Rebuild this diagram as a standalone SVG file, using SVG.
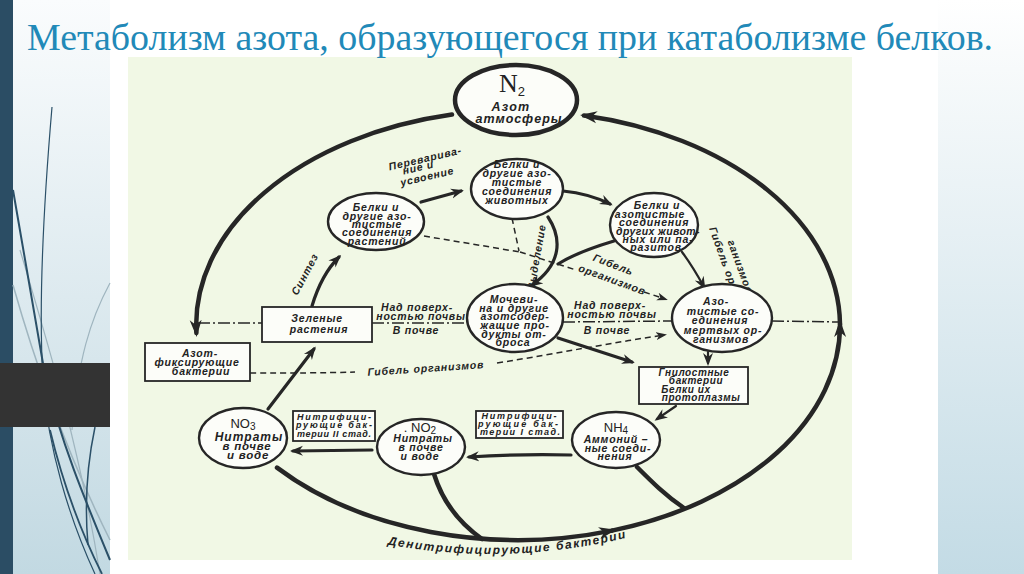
<svg xmlns="http://www.w3.org/2000/svg" width="1024" height="574" viewBox="0 0 1024 574">
<defs>
<linearGradient id="gl" x1="0" y1="0" x2="0" y2="1"><stop offset="0" stop-color="#fafcfd"/><stop offset="1" stop-color="#c2d9e2"/></linearGradient>
<linearGradient id="gr" x1="0" y1="0" x2="0" y2="1"><stop offset="0" stop-color="#ffffff"/><stop offset="0.12" stop-color="#f7fafb"/><stop offset="1" stop-color="#c3dbe5"/></linearGradient>
<marker id="a" markerUnits="userSpaceOnUse" markerWidth="16" markerHeight="12" refX="10" refY="6" orient="auto"><path d="M0,1 L13,6 L0,11 L4,6z" fill="#262626"/></marker>
<marker id="A" markerUnits="userSpaceOnUse" markerWidth="20" markerHeight="14" refX="13" refY="7" orient="auto"><path d="M0,1 L17,7 L0,13 L5,7z" fill="#262626"/></marker>
<marker id="d" markerUnits="userSpaceOnUse" markerWidth="12" markerHeight="9" refX="8" refY="4.5" orient="auto"><path d="M0,0.5 L11,4.5 L0,8.5 L3,4.5z" fill="#262626"/></marker>
<style>
.title{font-family:"Liberation Serif","DejaVu Serif",serif;font-size:38px;fill:#2189b8}
.n{fill:#fcfdf9;stroke:#262626;stroke-width:2.4}
.b{fill:#fcfdf9;stroke:#262626;stroke-width:1.8}
.t{font-family:"Liberation Sans","DejaVu Sans",sans-serif;font-style:italic;font-weight:bold;font-size:10.5px;letter-spacing:0.8px;fill:#222222;text-anchor:middle}
.sm{font-size:9px;letter-spacing:0}
.lg{font-size:12px;letter-spacing:1px}
.p{font-size:10px;letter-spacing:0.6px}
.f{font-family:"Liberation Sans","DejaVu Sans",sans-serif;font-size:13px;fill:#222222;text-anchor:middle}
.c{fill:none;stroke:#262626;stroke-linecap:round}
.k{stroke-width:4.5}
.m{stroke-width:3.2}
.s{stroke-width:2.2}
.dsh{fill:none;stroke:#262626;stroke-dasharray:6 4;stroke-width:1.5}
.dd{fill:none;stroke:#262626;stroke-dasharray:12 3 2 3;stroke-width:1.5}
.deco{fill:none;stroke:#2b5068}
.decol{fill:none;stroke:#9fb5bf}
</style>
</defs>

<!-- slide background -->
<rect x="0" y="0" width="1024" height="574" fill="#ffffff"/>
<rect x="13" y="0" width="97" height="574" fill="url(#gl)"/>
<rect x="938" y="0" width="86" height="574" fill="url(#gr)"/>
<rect x="0" y="0" width="13" height="574" fill="#2b4d64"/>
<g id="decor">
<path class="decol" stroke-width="1.5" d="M13,285 C40,380 70,460 110,540"/>
<path class="decol" stroke-width="1.2" d="M110,283 C90,320 78,360 72,430"/>
<path class="decol" stroke-width="1.2" d="M20,250 C50,350 80,450 100,574"/>
<path class="deco" stroke-width="1.2" d="M52,107 C44,200 38,300 43,380 C48,450 70,520 95,574"/>
<path class="deco" stroke-width="2" d="M13,190 C25,260 35,320 45,375 C60,440 85,500 110,560"/>
<path class="deco" stroke-width="1.8" d="M50,430 C62,480 80,530 102,574"/>
<path class="deco" stroke-width="1.5" d="M95,427 C88,460 84,500 88,545"/>
</g>
<rect x="0" y="363" width="110" height="64" fill="#333333"/>

<!-- diagram backdrop -->
<rect x="128" y="57" width="724" height="503" fill="#f1f8e5"/>

<text class="title" x="27" y="50" textLength="966" lengthAdjust="spacingAndGlyphs">Метаболизм азота, образующегося при катаболизме белков.</text>

<!-- connectors -->
<g id="connectors">
<path class="c k" d="M277,467.6 A322,215 0 0 0 612,530.6" marker-end="url(#A)"/>
<path class="c k" d="M612,530.6 A322,215 0 0 0 840,324" marker-end="url(#A)"/>
<path class="c k" d="M840,324 A322,215 0 0 0 584,115.5" marker-end="url(#A)"/>
<path class="c k" d="M452,114.6 A322,215 0 0 0 196.4,333" marker-end="url(#A)"/>
<path class="c k" d="M434,474 C442,500 458,522 482,539"/>
<path class="c k" d="M637,467 C652,482 666,496 684,508"/>

<path class="c m" d="M268,409 L314,349" marker-end="url(#a)"/>
<path class="c m" d="M312,306 C318,286 327,269 339,257" marker-end="url(#a)"/>
<path class="c m" d="M421,202 L461,191" marker-end="url(#a)"/>
<path class="c m" d="M563,191 C583,193 598,198 610,204" marker-end="url(#a)"/>
<path class="c m" d="M548,217 C562,238 562,264 532,285" marker-end="url(#a)"/>
<path class="c m" d="M614,241 C594,247 574,254 558,264"/>
<path class="c s" d="M682,252 C691,264 698,276 704,287" marker-end="url(#a)"/>
<path class="c s" d="M708,352 L708,363" marker-end="url(#a)"/>
<path class="c m" d="M558,338 L632,362" marker-end="url(#a)"/>
<path class="c s" d="M676,406 L657,419" marker-end="url(#a)"/>
<path class="c m" d="M571,455 C530,454 500,455 469,457" marker-end="url(#a)"/>
<path class="c m" d="M372,450 L293,451" marker-end="url(#a)"/>

<path class="dsh" d="M424,236 L520,252"/>
<path class="dsh" d="M512,218 L519,251"/>
<path class="dsh" d="M520,252 L576,270"/>
<path class="dsh" d="M644,292 L665,299" marker-end="url(#d)"/>
<path class="dsh" d="M250,373 C290,373 325,373 355,372"/>
<path class="dsh" d="M497,363 C560,353 610,343 664,335" marker-end="url(#d)"/>

<path class="dd" d="M198,323 L262,323"/>
<path class="dd" d="M372,323 L467,323"/>
<path class="dd" d="M563,322 L672,321"/>
<path class="dd" d="M772,321 L838,322"/>
</g>

<!-- connector labels -->
<g id="labels">
<text class="t" transform="translate(426,162) rotate(-13)">Переварива-</text>
<text class="t" transform="translate(419,171) rotate(-13)">ние и</text>
<text class="t" transform="translate(428,180) rotate(-13)">усвоение</text>
<text class="t" transform="translate(308,276) rotate(-62)">Синтез</text>
<text class="t" transform="translate(540,258) rotate(-80)">Выделение</text>
<text class="t" transform="translate(612,268) rotate(21)">Гибель</text>
<text class="t" transform="translate(611,283) rotate(20)">организмов</text>
<text class="t" transform="translate(720,259) rotate(70)">Гибель ор-</text>
<text class="t" transform="translate(737,268) rotate(70)">ганизмов</text>
<text class="t" transform="translate(426,372) rotate(-3.8)">Гибель организмов</text>
<text class="t" x="417" y="311">Над поверх-</text>
<text class="t" x="421" y="320">ностью почвы</text>
<text class="t" x="416" y="334">В почве</text>
<text class="t" x="610" y="309">Над поверх-</text>
<text class="t" x="612" y="318">ностью почвы</text>
<text class="t" x="607" y="334">В почве</text>
<path id="denp" d="M385,544 Q505,567 630,537" fill="none"/>
<text class="t" style="font-size:12px;letter-spacing:1.6px"><textPath href="#denp" startOffset="50%">Денитрифицирующие бактерии</textPath></text>
</g>

<!-- nodes -->
<g id="n2">
<ellipse cx="516" cy="100" rx="61" ry="35" fill="#fcfdf9" stroke="#262626" stroke-width="4.5"/>
<text x="512" y="92" font-family="'Liberation Serif', serif" font-size="26" fill="#222222" text-anchor="middle">N<tspan font-family="'Liberation Sans', sans-serif" font-size="13" dy="4">2</tspan></text>
<text class="t" x="511" y="111" style="font-size:12.5px;letter-spacing:1.2px">Азот</text>
<text class="t" x="519" y="123" style="font-size:12.5px;letter-spacing:1px">атмосферы</text>
</g>

<g id="plants-proteins">
<ellipse class="n" cx="376" cy="221.5" rx="48" ry="28.5"/>
<text class="t" x="376" y="211">Белки и</text>
<text class="t" x="377" y="219.5">другие азо-</text>
<text class="t" x="377" y="228">тистые</text>
<text class="t" x="377" y="236">соединения</text>
<text class="t" x="377" y="244.5">растений</text>
</g>

<g id="animal-proteins">
<ellipse class="n" cx="517" cy="189" rx="46" ry="30"/>
<text class="t" x="517" y="168">Белки и</text>
<text class="t" x="517" y="177">другие азо-</text>
<text class="t" x="517" y="186">тистые</text>
<text class="t" x="517" y="195">соединения</text>
<text class="t" x="517" y="204">животных</text>
</g>

<g id="other-animals">
<ellipse class="n" cx="654" cy="225" rx="44" ry="32"/>
<text class="t" x="657" y="209">Белки и</text>
<text class="t" x="650" y="218">азотистые</text>
<text class="t" x="654" y="226">соединения</text>
<text class="t" x="658" y="235" style="letter-spacing:0.4px">других живот-</text>
<text class="t" x="658" y="243">ных или па-</text>
<text class="t" x="656" y="251">разитов</text>
</g>

<g id="green-plants">
<rect class="b" x="262" y="307" width="110" height="35"/>
<text class="t" x="317" y="322">Зеленые</text>
<text class="t" x="319" y="333">растения</text>
</g>

<g id="urea">
<ellipse class="n" cx="515" cy="318" rx="48" ry="34"/>
<text class="t" x="514" y="303">Мочеви-</text>
<text class="t" x="514" y="312">на и другие</text>
<text class="t" x="515" y="320">азотсодер-</text>
<text class="t" x="515" y="329">жащие про-</text>
<text class="t" x="514" y="338">дукты от-</text>
<text class="t" x="513" y="346">броса</text>
</g>

<g id="dead-organisms">
<ellipse class="n" cx="722" cy="318" rx="50" ry="34"/>
<text class="t" x="716" y="305">Азо-</text>
<text class="t" x="723" y="315">тистые со-</text>
<text class="t" x="720" y="324">единения</text>
<text class="t" x="723" y="334">мертвых ор-</text>
<text class="t" x="721" y="343">ганизмов</text>
</g>

<g id="putrefactive">
<rect class="b" x="639" y="367" width="109" height="37"/>
<text class="t p" x="694" y="376">Гнилостные</text>
<text class="t p" x="696" y="384">бактерии</text>
<text class="t p" x="686" y="393">Белки их</text>
<text class="t p" x="701" y="401">протоплазмы</text>
</g>

<g id="n-fixing">
<rect class="b" x="145" y="343" width="105" height="38"/>
<text class="t" x="200" y="357">Азот-</text>
<text class="t" x="197" y="366">фиксирующие</text>
<text class="t" x="201" y="375">бактерии</text>
</g>

<g id="nh4">
<ellipse class="n" cx="616" cy="440" rx="44" ry="28"/>
<text class="f" x="616" y="432">NH<tspan font-size="10" dy="2">4</tspan></text>
<text class="t" x="616" y="443">Аммоний –</text>
<text class="t" x="618" y="452">ные соеди-</text>
<text class="t" x="615" y="460">нения</text>
</g>

<g id="nitrif-1">
<rect class="b" x="476" y="411" width="87" height="27"/>
<text class="t sm" x="519" y="419" textLength="75">Нитрифици-</text>
<text class="t sm" x="518" y="427" textLength="80">рующие бак-</text>
<text class="t sm" x="520" y="435" textLength="80">терии I стад.</text>
</g>

<g id="no2">
<ellipse class="n" cx="421" cy="447" rx="44" ry="28"/>
<text class="f" x="420" y="432">. NO<tspan font-size="10" dy="2">2</tspan></text>
<text class="t" x="423" y="442">Нитраты</text>
<text class="t" x="421" y="451">в почве</text>
<text class="t" x="420" y="460">и воде</text>
</g>

<g id="nitrif-2">
<rect class="b" x="293" y="411" width="82" height="30"/>
<text class="t sm" x="334" y="420" textLength="74">Нитрифици-</text>
<text class="t sm" x="334" y="428" textLength="76">рующие бак-</text>
<text class="t sm" x="334" y="437" textLength="74">терии II стад.</text>
</g>

<g id="no3">
<ellipse class="n" cx="243" cy="438" rx="44" ry="30"/>
<text class="f" x="243" y="428">NO<tspan font-size="10" dy="2">3</tspan></text>
<text class="t lg" x="249" y="441">Нитраты</text>
<text class="t" x="247" y="450" style="font-size:11.5px">в почве</text>
<text class="t" x="248" y="459" style="font-size:11.5px">и воде</text>
</g>
</svg>
